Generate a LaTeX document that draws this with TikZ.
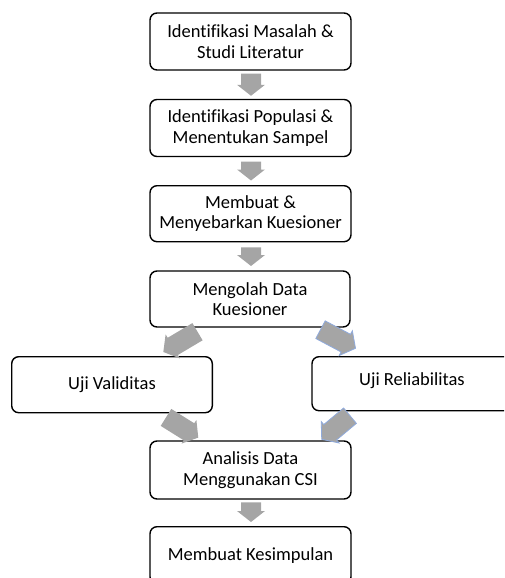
\documentclass[tikz,border=0pt]{standalone}
\usepackage{fontspec}
\setmainfont[Ligatures={NoCommon}]{Carlito}
\usetikzlibrary{calc}
\definecolor{arrgray}{HTML}{A5A5A5}
\definecolor{arrblue}{HTML}{8FAADC}
\tikzset{
  box/.style={draw=black, line width=1.4pt, rounded corners=7pt, fill=white,
    minimum width=201pt, minimum height=57pt, inner sep=2pt, align=center,
    font=\fontsize{18.5pt}{20.5pt}\selectfont},
  grayarrow/.style={fill=arrgray},
  bluearrow/.style={fill=arrgray, draw=arrblue, line width=0.8pt, line join=miter}
}
% block arrow from #2 to #3 with style #1
\newcommand\blockarr[3]{%
  \path[#1] let \p1=($(#3)-(#2)$), \n1={atan2(\y1,\x1)}, \n2={veclen(\x1,\y1)} in
    [shift={(#2)}, rotate=\n1]
    (0,10) -- ({\n2-11},10) -- ({\n2-11},14) -- (\n2,0) --
    ({\n2-11},-14) -- ({\n2-11},-10) -- (0,-10) -- cycle;}
\begin{document}
\begin{tikzpicture}[x=1pt, y=-1pt]
\useasboundingbox (0,0) rectangle (504,578);
\clip (0,0) rectangle (504,578);
\node[box] (b1) at (250.5,41.5) {Identifikasi Masalah \&\\Studi Literatur};
\node[box] (b2) at (250.5,128) {Identifikasi Populasi \&\\Menentukan Sampel};
\node[box, minimum height=56pt] (b3) at (250.5,213.7) {Membuat \&\\Menyebarkan Kuesioner};
\node[box, minimum width=200pt, minimum height=56pt] (b4) at (250,299) {Mengolah Data\\Kuesioner};
\node[box, minimum width=200.6pt, minimum height=56pt] (val) at (112,384.7) {Uji Validitas};
\node[box, minimum width=200pt, minimum height=54pt, text height=13.9pt, text depth=9.7pt] (rel) at (412,383.7) {Uji Reliabilitas};
\node[box, minimum height=58pt] (anal) at (250.5,470) {Analisis Data\\Menggunakan CSI};
\node[box] (kes) at (250.5,555.2) {Membuat Kesimpulan};

\coordinate (a1s) at ($(b1.south)+(0.5,3)$);
\coordinate (a1e) at ($(b2.north)+(0.5,-3)$);
\coordinate (a2s) at ($(b2.south)+(0.5,4.5)$);
\coordinate (a2e) at ($(b3.north)+(0.5,-4.5)$);
\coordinate (a3s) at ($(b3.south)+(0.5,5)$);
\coordinate (a3e) at ($(b4.north)+(1,-4.3)$);
\coordinate (a4s) at ($(b4.south)+(-52.5,4)$);
\coordinate (a4e) at ($(val.north)+(51.3,-4)$);
\coordinate (a5s) at ($(b4.south)+(70.5,2)$);
\coordinate (a5e) at ($(rel.north)+(-56.5,-7.7)$);
\coordinate (a6s) at ($(val.south)+(54,4)$);
\coordinate (a6e) at ($(anal.north)+(-52.2,-2.7)$);
\coordinate (a7s) at ($(rel.south)+(-62,4.3)$);
\coordinate (a7e) at ($(anal.north)+(71.2,-1)$);
\coordinate (a8s) at ($(anal.south)+(0.5,2.7)$);
\coordinate (a8e) at ($(kes.north)+(0.5,-4)$);

\blockarr{grayarrow}{a1s}{a1e}
\blockarr{grayarrow}{a2s}{a2e}
\blockarr{grayarrow}{a3s}{a3e}
\blockarr{grayarrow}{a4s}{a4e}
\blockarr{bluearrow}{a5s}{a5e}
\blockarr{grayarrow}{a6s}{a6e}
\blockarr{bluearrow}{a7s}{a7e}
\blockarr{grayarrow}{a8s}{a8e}
\end{tikzpicture}
\end{document}
